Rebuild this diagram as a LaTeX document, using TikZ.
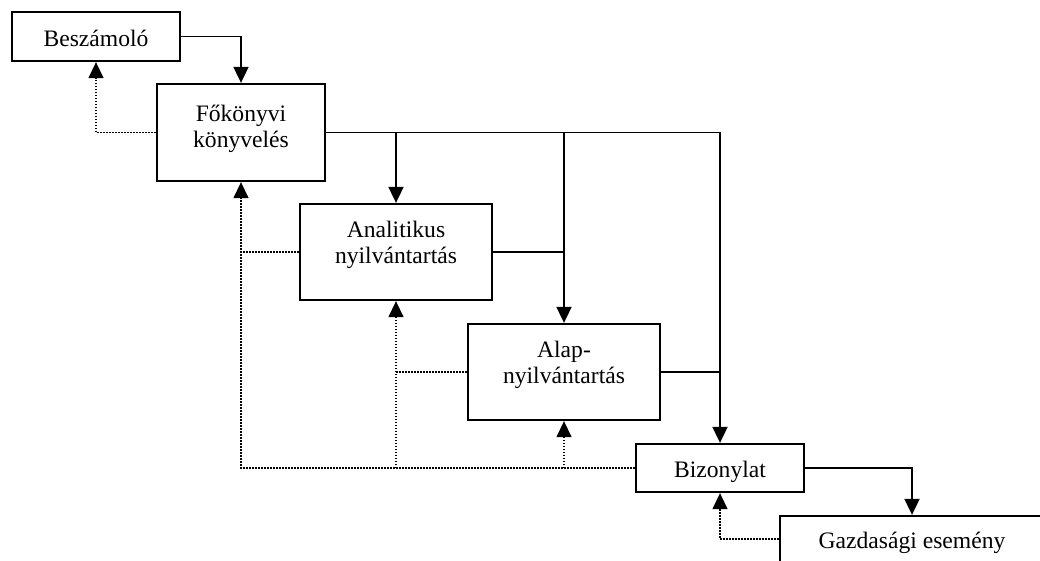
\documentclass[tikz,border=0pt]{standalone}
\usepackage{fontspec}
\setmainfont{Liberation Serif}
\usetikzlibrary{arrows.meta}
\begin{document}
\begin{tikzpicture}[x=1pt,y=-1pt,
  box/.style={draw, line width=2.3pt, inner sep=0pt, fill=white},
  lbl/.style={anchor=base, inner sep=0pt, font=\fontsize{23.6}{28}\selectfont},
  arr/.style={line width=1.8pt, -{Triangle[width=15pt,length=16pt]}},
  sline/.style={line width=1.8pt},
  dline/.style={line width=1.4pt, dash pattern=on 1.4pt off 1.6pt},
  darr/.style={dline, -{Triangle[width=15pt,length=16pt]}}]
\clip (0,0) rectangle (1040,560);
\fill[white] (0,0) rectangle (1040,560);
% boxes
\node[box, minimum width=168pt, minimum height=49pt] (bes) at (96,36.5) {};
\node[box, minimum width=168pt, minimum height=97pt] (fk) at (241,132.5) {};
\node[box, minimum width=192pt, minimum height=96pt] (an) at (396,252) {};
\node[box, minimum width=192pt, minimum height=96pt] (al) at (564,372) {};
\node[box, minimum width=168pt, minimum height=48pt] (biz) at (720,468) {};
\node[box, minimum width=264pt, minimum height=46pt] (gaz) at (912,539) {};
% texts
\node[lbl] (bes1) at (96,46) {Beszámoló};
\node[lbl] (fk1) at (241,121) {Főkönyvi};
\node[lbl] (fk2) at (241,147) {könyvelés};
\node[lbl] (an1) at (396,237) {Analitikus};
\node[lbl] (an2) at (396,263) {nyilvántartás};
\node[lbl] (al1) at (564,357) {Alap-};
\node[lbl] (al2) at (564,383) {nyilvántartás};
\node[lbl] (biz1) at (720,477) {Bizonylat};
\node[lbl] (gaz1) at (912,548) {Gazdasági esemény};
% solid connectors
\draw[arr] (bes.east) -| (fk.north);
\draw[arr] (fk.east) -| (biz.north);
\draw[arr] (fk.east -| an.north) -- (an.north);
\draw[arr] (fk.east -| al.north) -- (al.north);
\draw[sline] (an.east) -- (an.east -| al.north);
\draw[sline] (al.east) -- (al.east -| biz.north);
\draw[arr] (biz.east) -| (gaz.north);
% dotted connectors
\draw[darr] (fk.west) -| (bes.south);
\draw[dline] (an.west) -- (an.west -| fk.south);
\draw[dline] (al.west) -- (al.west -| an.south);
\draw[darr] (biz.west) -| (fk.south);
\draw[darr] (biz.west -| an.south) -- (an.south);
\draw[darr] (biz.west -| al.south) -- (al.south);
\draw[darr] (gaz.west) -| (biz.south);
\end{tikzpicture}
\end{document}
